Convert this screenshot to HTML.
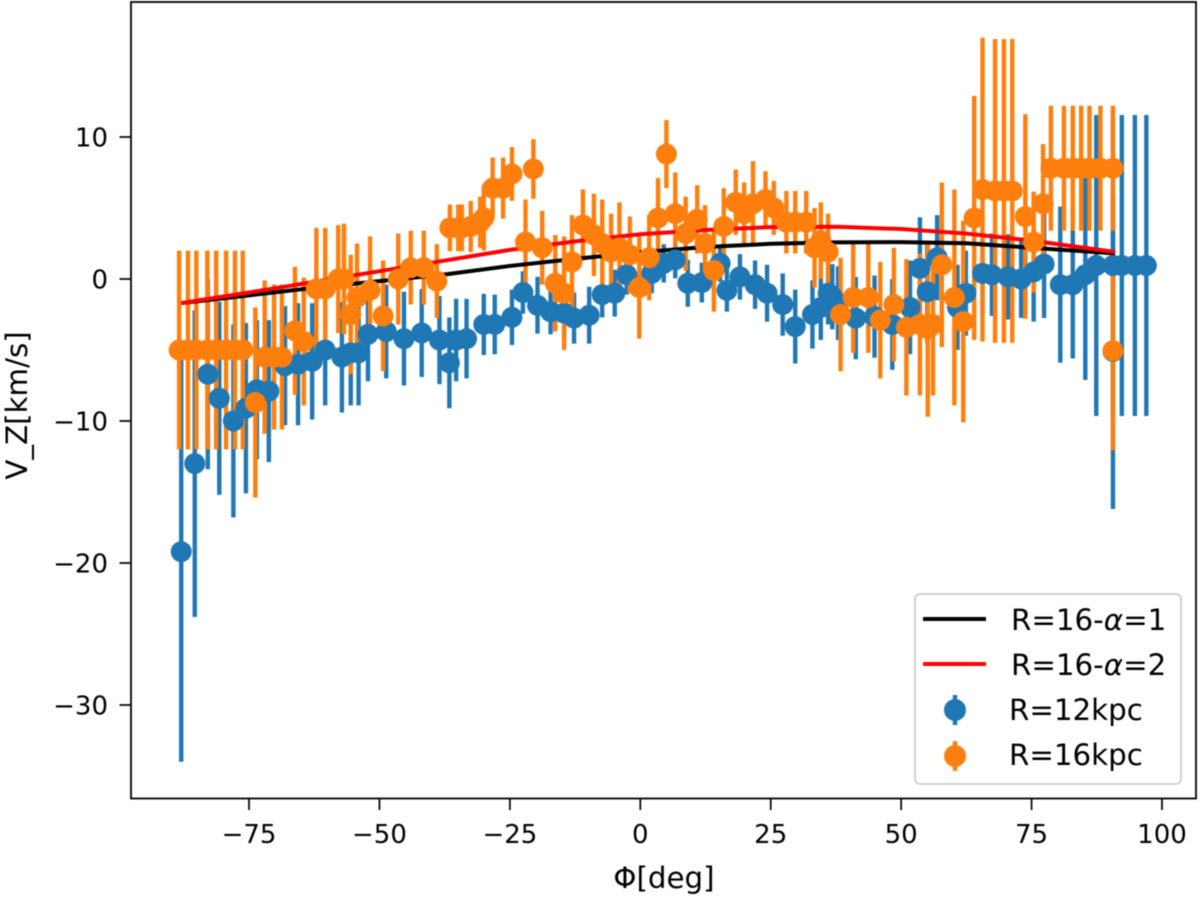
<!DOCTYPE html>
<html>
<head>
<meta charset="utf-8">
<style>
html,body{margin:0;padding:0;background:#fff;width:1200px;height:900px;overflow:hidden}
svg{display:block;filter:blur(0.6px)}
text{font-family:"DejaVu Sans","Liberation Sans",sans-serif;font-size:26px;fill:#000}
text.big{font-size:29.3px}
</style>
</head>
<body>
<svg id="chart" xmlns="http://www.w3.org/2000/svg" width="1200" height="900" viewBox="0 0 1200 900">
  <rect x="131" y="2" width="1065" height="796.5" fill="#fff"/>
  <g id="bars"></g>
  <g id="curves"></g>
  <g id="marks"></g>
  <rect x="131" y="2" width="1065" height="796.5" fill="none" stroke="#000" stroke-width="1.8"/>
  <g id="ticks"></g>
  <text class="big" x="664" y="888" text-anchor="middle">Φ[deg]</text>
  <text class="big" transform="translate(27,405.5) rotate(-90)" text-anchor="middle">V_Z[km/s]</text>
  <g>
    <rect x="915" y="594" width="266" height="190" rx="5" fill="#fff" fill-opacity="0.85" stroke="#ccc" stroke-width="1.8"/>
    <line x1="923" y1="619" x2="986" y2="619" stroke="#000" stroke-width="4"/>
    <text class="big" x="1011" y="630">R=16-<tspan font-style="italic">α</tspan>=1</text>
    <line x1="923" y1="664" x2="986" y2="664" stroke="#f00" stroke-width="4"/>
    <text class="big" x="1011" y="675">R=16-<tspan font-style="italic">α</tspan>=2</text>
    <line x1="955" y1="695" x2="955" y2="725" stroke="#1f77b4" stroke-width="4.4"/>
    <circle cx="955" cy="710" r="11" fill="#1f77b4"/>
    <text class="big" x="1009" y="720">R=12kpc</text>
    <line x1="955" y1="741" x2="955" y2="771" stroke="#ff7f0e" stroke-width="4.4"/>
    <circle cx="955" cy="756" r="11" fill="#ff7f0e"/>
    <text class="big" x="1009" y="765">R=16kpc</text>
  </g>
</svg>
<script>
const xTicks = [-75, -50, -25, 0, 25, 50, 75, 100];
const yTicks = [10, 0, -10, -20, -30];

const curvePhi = [-88, -75, -62.5, -50, -37.5, -25, -12.5, 0, 12.5, 25, 37.5, 50, 62.5, 75, 91];
const curve1V = [-1.7, -1.15, -0.62, -0.15, 0.32, 0.92, 1.42, 1.88, 2.25, 2.48, 2.58, 2.6, 2.52, 2.2, 1.8];
const curve2V = [-1.7, -0.95, -0.2, 0.55, 1.3, 2.05, 2.65, 3.15, 3.45, 3.65, 3.68, 3.52, 3.2, 2.7, 1.9];

const bluePhi = [-88,-85.4,-82.9,-80.7,-78,-75.6,-73.5,-71.2,-68.1,-65.6,-62.9,-60.4,-57.2,-55.5,-54,-52.2,-48.7,-45.3,-41.9,-38.5,-36.6,-35.3,-33.3,-30,-27.9,-24.6,-22.5,-19.7,-17.2,-14.6,-12.7,-9.8,-7.3,-4.9,-2.6,2.2,4.5,6.7,9.1,11.8,15.3,16.6,19.1,22,24.3,27.3,29.7,33,34.6,36,36.8,37.9,41.3,44.9,48.3,51.7,53.6,55,56.9,60.8,62.4,65.6,67.4,70.5,73,75.4,77.4,80.5,82.9,85.3,87.4,90.6,90.6,92.3,94.8,97];
const blueV = [-19.2,-13,-6.7,-8.4,-10,-9.1,-7.8,-7.9,-6.1,-6,-5.8,-5,-5.5,-5.2,-5.2,-3.9,-3.7,-4.2,-3.8,-4.3,-5.9,-4.3,-4.2,-3.2,-3.2,-2.7,-0.95,-1.85,-2.3,-2.4,-2.75,-2.55,-1.1,-1,0.3,0.4,1.1,1.35,-0.3,-0.25,1.1,-0.8,0.15,-0.4,-1,-1.8,-3.35,-2.5,-2,-1,-1.25,-1.7,-2.75,-2.65,-3.2,-2,0.75,-0.9,1.5,-2,-1,0.4,0.3,0.15,0,0.5,1.05,-0.4,-0.4,0.3,0.95,-5.1,0.95,0.95,0.95,0.95];
const blueErr = [14.8,10.8,6.7,6.8,6.8,6,4.9,5,4.2,4.3,4.1,3.9,3.9,3.7,3.7,3.3,3.3,3.3,3.1,3.1,3.2,2.9,2.8,2.15,2.1,1.95,1.5,2,1.6,1.9,1.8,2,1.6,1.65,1.4,1.4,1.35,1.3,1.65,1.4,1.3,1.5,1.6,1.7,2,2.2,2.6,2.4,2.3,2.2,2.3,2.6,2.9,2.9,3.2,3.3,3.6,3.6,3,3,3,3,2.9,3,2.75,3.5,3.8,5.5,5.2,7.4,10.6,11.1,10.6,10.6,10.6,10.6];

const orangePhi = [-88.4,-86.7,-85.1,-83,-81.3,-79.4,-77.7,-76.2,-73.8,-72,-70.2,-68.7,-66.2,-64.5,-62.1,-60.4,-57.9,-56.8,-55.5,-54.3,-51.8,-49.3,-46.4,-44,-41.5,-39,-36.5,-34.9,-34.2,-32.5,-30.7,-30,-28.3,-26.3,-24.6,-22,-20.5,-18.8,-16.3,-14.6,-13.1,-11,-8.9,-7.3,-5.6,-4,-2,-0.2,1.7,3.4,5,6.7,8.7,10.9,12.4,14.1,16,18.3,19.9,21.6,24,25.6,28,29.7,31.8,33.4,34.6,36,38.4,40.8,43.7,46,48.6,51,53.6,55.1,56.1,57.8,60.2,61.9,64,65.6,68,69.7,71.3,73.8,75.4,77.2,78.7,81.2,82.9,84.5,86.1,88.2,90.6,90.6];
const orangeV = [-5,-5,-5,-5,-5,-5,-5,-5,-8.7,-5.5,-5.5,-5.5,-3.65,-4.4,-0.7,-0.7,0,0,-2.5,-1.3,-0.8,-2.6,0,0.8,0.8,-0.15,3.6,3.6,3.6,3.7,4,4.3,6.4,6.4,7.4,2.6,7.75,2.2,-0.3,-1,1.2,3.8,3.1,2.5,1.9,2.2,1.7,-0.6,1.5,4.3,8.8,4.6,3.2,4.2,2.5,0.6,3.7,5.4,4.6,5.3,5.6,5,4,4,4,2.2,2.7,1.9,-2.5,-1.3,-1.3,-2.9,-1.8,-3.4,-3.2,-3.5,-3.2,1,-1.3,-3,4.3,6.3,6.2,6.2,6.2,4.4,2.6,5.3,7.8,7.8,7.8,7.8,7.8,7.8,7.8,-5.05];
const orangeErr = [7,7,7,7,7,7,7,7,6.7,5.4,5.1,5.1,4.5,4.5,4.3,4.3,3.8,3.9,4.2,3.8,3.8,3.9,3.2,2.6,2.6,2.6,1.65,1.65,1.65,1.8,1.8,2.3,2.15,2.15,1.9,3,2.1,2.6,3.4,4,3.3,2.5,2.9,3.1,2.7,3.2,2.7,3.6,3,2.8,2.4,2.9,2.6,2.4,2.7,2.9,2.7,2.3,2.2,3,2,1.9,2.2,2.2,2.2,2.8,2.7,2.7,4,3.9,3.9,4.1,4,4.8,5,6.2,5,5.8,7.6,7.1,8.6,10.7,10.7,10.7,10.7,7.2,3.55,4.2,4.4,4.4,4.4,4.4,4.4,4.4,4.4,7];

const NS = 'http://www.w3.org/2000/svg';
function xScale(phi) { return 640.3 + phi * 5.217; }
function yScale(v) { return 279 - v * 14.2; }

function make(tag, attrs, parent) {
  const el = document.createElementNS(NS, tag);
  for (const k in attrs) el.setAttribute(k, attrs[k]);
  parent.appendChild(el);
  return el;
}

const bars = document.getElementById('bars');
const curves = document.getElementById('curves');
const marks = document.getElementById('marks');

function drawBars(phis, vals, errs, color, name) {
  phis.forEach((p, i) => {
    const x = xScale(p);
    const bar = make('line', {x1: x, x2: x, y1: yScale(vals[i] + errs[i]), y2: yScale(vals[i] - errs[i]), stroke: color, 'stroke-width': 4.4}, bars);
    
    
  });
}
function drawCurve(phis, vals, color, name) {
  const pts = phis.map((p, i) => xScale(p) + ',' + yScale(vals[i])).join(' ');
  const el = make('polyline', {points: pts, fill: 'none', stroke: color, 'stroke-width': 4}, curves);
  
  
}
function drawDots(phis, vals, color, name) {
  phis.forEach((p, i) => {
    const dot = make('circle', {cx: xScale(p), cy: yScale(vals[i]), r: 10.5, fill: color}, marks);
    
    
  });
}
drawBars(bluePhi, blueV, blueErr, '#1f77b4', 'series-12kpc');
drawBars(orangePhi, orangeV, orangeErr, '#ff7f0e', 'series-16kpc');
drawCurve(curvePhi, curve1V, '#000', 'curve-alpha-1');
drawCurve(curvePhi, curve2V, '#f00', 'curve-alpha-2');
drawDots(bluePhi, blueV, '#1f77b4', 'series-12kpc');
drawDots(orangePhi, orangeV, '#ff7f0e', 'series-16kpc');

const ticks = document.getElementById('ticks');
function fmt(t) { return String(t).replace('-', '\u2212'); }
xTicks.forEach(t => {
  const x = xScale(t);
  const mark = make('line', {x1: x, x2: x, y1: 798.5, y2: 810, stroke: '#000', 'stroke-width': 1.7}, ticks);
  
  
  const label = make('text', {x: x, y: 843, 'text-anchor': 'middle'}, ticks);
  
  
  label.textContent = fmt(t);
});
yTicks.forEach(t => {
  const y = yScale(t);
  const mark = make('line', {x1: 119.5, x2: 131, y1: y, y2: y, stroke: '#000', 'stroke-width': 1.7}, ticks);
  
  
  const label = make('text', {x: 108, y: y + 9.5, 'text-anchor': 'end'}, ticks);
  
  
  label.textContent = fmt(t);
});
</script>
</body>
</html>
